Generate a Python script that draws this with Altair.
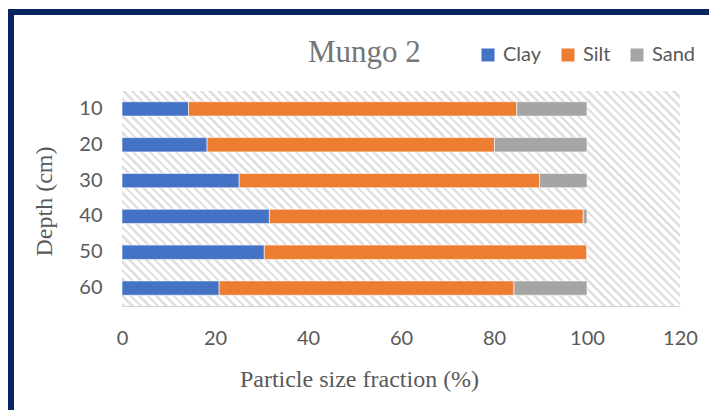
import altair as alt
import pandas as pd

# ---- data ----
depths = ["10", "20", "30", "40", "50", "60"]
fractions = ["Clay", "Silt", "Sand"]
clay = [14.3, 18.3, 25.2, 31.7, 30.6, 20.9]
silt = [70.6, 61.8, 64.6, 67.5, 69.4, 63.4]
sand = [15.1, 19.9, 10.2, 0.8, 0.0, 15.7]
x_ticks = [0, 20, 40, 60, 80, 100, 120]
colors = ["#4472C4", "#ED7D31", "#A5A5A5"]
chart_title = "Mungo 2"

rows = []
for i, d in enumerate(depths):
    for j, (name, vals) in enumerate(zip(fractions, [clay, silt, sand])):
        rows.append({"Depth": d, "Fraction": name, "Value": vals[i], "order": j})
df = pd.DataFrame(rows)

W, H = 558, 215

# diagonal hatch via a striped linear gradient (bbox units)
r = H / W
k = (1 + r) / (1 + r * r)
n_stripes = 90
stops = []
stripe_col = "#e1e1e1"
for s in range(n_stripes):
    a = s / n_stripes
    b = (s + 0.42) / n_stripes
    c = (s + 1) / n_stripes
    stops += [
        {"offset": a, "color": stripe_col},
        {"offset": b, "color": stripe_col},
        {"offset": b, "color": "#ffffff"},
        {"offset": c, "color": "#ffffff"},
    ]
hatch_grad = alt.Gradient(
    gradient="linear", stops=stops, x1=0, y1=1, x2=k, y2=1 - k * r
)

one = pd.DataFrame({"label": [chart_title]})

frame = alt.Chart(one).mark_rect(
    fill="transparent", stroke="#0B2462", strokeWidth=6, clip=False
).encode(
    x=alt.value(-111), x2=alt.value(800), y=alt.value(-79), y2=alt.value(600)
)

hatch = alt.Chart(one).mark_rect(fill=hatch_grad).encode(
    x=alt.value(0), x2=alt.value("width"), y=alt.value(0), y2=alt.value("height")
)

title_text = alt.Chart(one).mark_text(
    align="left",
    baseline="alphabetic",
    font="Liberation Serif",
    fontSize=31,
    color="#757575",
    clip=False,
).encode(
    text="label:N", x=alt.value(186), y=alt.value(-29)
)

bars = alt.Chart(df).mark_bar(stroke="white", strokeWidth=0.6).encode(
    y=alt.Y(
        "Depth:N",
        sort=depths,
        scale=alt.Scale(paddingInner=0.6, paddingOuter=0.3),
        axis=alt.Axis(
            title="Depth (cm)",
            ticks=False,
            domain=True,
            domainColor="#d4d4d4",
            labelFont="Lato",
            labelFontSize=20,
            labelColor="#595959",
            labelPadding=20,
            titleFont="Liberation Serif",
            titleFontSize=24,
            titleFontWeight="normal",
            titleColor="#595959",
            titleAngle=270,
            titleX=-71,
            titleY=110,
            titleAlign="center",
            titleBaseline="alphabetic",
        ),
    ),
    x=alt.X(
        "Value:Q",
        stack="zero",
        scale=alt.Scale(domain=[0, 120], nice=False),
        axis=alt.Axis(
            title="Particle size fraction (%)",
            values=x_ticks,
            grid=False,
            ticks=False,
            domain=True,
            domainColor="#d4d4d4",
            labelFlush=False,
            labelFont="Lato",
            labelFontSize=20,
            labelColor="#595959",
            labelPadding=22,
            titleFont="Liberation Serif",
            titleFontSize=24,
            titleFontWeight="normal",
            titleColor="#595959",
            titleX=237,
            titleY=80,
            titleAlign="center",
            titleBaseline="alphabetic",
        ),
    ),
    color=alt.Color(
        "Fraction:N",
        scale=alt.Scale(domain=fractions, range=colors),
        legend=alt.Legend(
            title=None,
            orient="none",
            direction="horizontal",
            legendX=356,
            legendY=-46,
            symbolType="square",
            symbolSize=169,
            symbolStrokeWidth=0,
            labelFont="Lato",
            labelFontSize=20,
            labelColor="#595959",
            labelOffset=5,
            columnPadding=16,
            padding=0,
        ),
    ),
    order=alt.Order("order:Q"),
)

chart = (
    alt.layer(frame, hatch, bars, title_text)
    .properties(
        width=W,
        height=H,
        padding={"left": 114, "top": 83, "right": 29, "bottom": 104},
        autosize=alt.AutoSizeParams(type="none"),
    )
    .configure_view(strokeWidth=0)
)

chart.save("out.html", embed_options={"renderer": "svg", "actions": False})
